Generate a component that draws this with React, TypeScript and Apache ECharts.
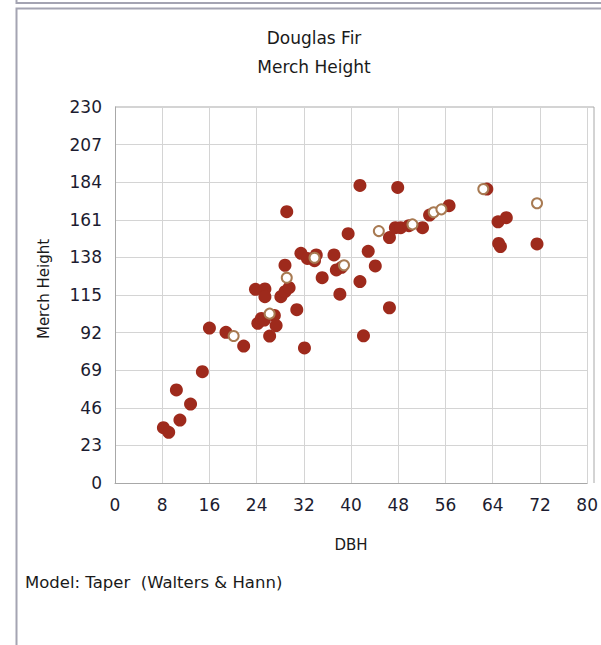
import React, { useEffect, useRef } from "react";
import * as echarts from "echarts";

const titleLines = ["Douglas Fir", "Merch Height"];
const xName = "DBH";
const yName = "Merch Height";
const footer = "Model: Taper  (Walters & Hann)";

// [DBH, Merch Height] observed (filled)
const filledPoints: [number, number][] = [
  [8.2, 33.8], [9.1, 31.0], [11.0, 38.5], [12.8, 48.3], [10.4, 56.9], [14.8, 68.1],
  [16.0, 94.8], [18.8, 92.2], [21.8, 83.8],
  [24.2, 97.7], [24.8, 100.7], [25.3, 99.7], [27.0, 102.5], [27.3, 96.3], [26.2, 89.9],
  [23.8, 118.5], [25.4, 118.7], [25.4, 114.0], [28.1, 114.0], [28.8, 117.0], [29.5, 119.5],
  [28.8, 133.2], [29.1, 166.0], [30.8, 106.0], [32.1, 82.6],
  [31.5, 140.5], [32.6, 137.4], [33.8, 136.0], [34.1, 139.5], [35.1, 125.6], [37.1, 139.5],
  [37.5, 130.3], [38.4, 131.9], [38.1, 115.5],
  [39.5, 152.5], [41.5, 123.2], [42.1, 90.0], [42.9, 141.7], [44.1, 132.8], [46.5, 150.1],
  [46.5, 107.2], [41.5, 182.0], [47.9, 180.8],
  [47.5, 156.2], [48.4, 156.2], [49.8, 157.4], [52.1, 156.2], [53.3, 163.9], [56.6, 169.6],
  [63.0, 179.8], [64.9, 159.8], [66.3, 162.3], [65.0, 146.5], [65.3, 144.6], [71.5, 146.2],
];

// [DBH, Merch Height] (hollow markers)
const hollowPoints: [number, number][] = [
  [20.1, 89.9], [26.2, 103.6], [29.1, 125.6], [33.8, 137.8], [38.8, 133.2], [44.7, 154.1],
  [50.4, 158.2], [54.0, 165.6], [55.3, 167.4], [62.4, 179.8], [71.5, 171.1],
];

const xMin = 0, xMax = 80, xStep = 8;
const yMin = 0, yMax = 230, yStep = 23;

const FONT = "DejaVu Sans";

export default function App() {
  const ref = useRef<HTMLDivElement>(null);
  useEffect(() => {
    if (!ref.current) return;
    const chart = echarts.init(ref.current, null, { renderer: "svg" });
    chart.setOption({
      animation: false,
      backgroundColor: "#ffffff",
      textStyle: { fontFamily: FONT },
      title: {
        text: titleLines.join("\n"),
        left: 309,
        top: 18,
        textAlign: "center",
        textStyle: { fontFamily: FONT, fontSize: 17, fontWeight: "normal", color: "#1a1a1a", lineHeight: 29 },
      },
      grid: { left: 115, top: 107, right: 7, bottom: 162, containLabel: false },
      xAxis: {
        type: "value",
        min: xMin,
        max: xMax,
        interval: xStep,
        name: xName,
        nameLocation: "middle",
        nameGap: 54,
        nameTextStyle: { fontFamily: FONT, fontSize: 15, color: "#1a1a1a" },
        axisLine: { show: true, lineStyle: { color: "#a8a8a8", width: 1 } },
        axisTick: { show: false },
        axisLabel: { margin: 13, fontFamily: FONT, fontSize: 17, color: "#1c1c30" },
        splitLine: { show: true, lineStyle: { color: "#d4d4d4", width: 1 } },
      },
      yAxis: {
        type: "value",
        min: yMin,
        max: yMax,
        interval: yStep,
        name: yName,
        nameLocation: "middle",
        nameGap: 64,
        nameRotate: 90,
        nameTextStyle: { fontFamily: FONT, fontSize: 15, color: "#1a1a1a", padding: [0, 0, 0, 12] },
        axisLine: { show: true, lineStyle: { color: "#a8a8a8", width: 1 } },
        axisTick: { show: false },
        axisLabel: { margin: 13, fontFamily: FONT, fontSize: 17, color: "#1c1c30" },
        splitLine: { show: true, lineStyle: { color: "#d4d4d4", width: 1 } },
      },
      graphic: [
        {
          type: "rect",
          shape: { x: 16.5, y: -10, width: 600, height: 13 },
          style: { fill: "none", stroke: "#a4a4b2", lineWidth: 2 },
          silent: true,
        },
        {
          type: "rect",
          shape: { x: 16.5, y: 8.5, width: 600, height: 700 },
          style: { fill: "none", stroke: "#a4a4b2", lineWidth: 2 },
          silent: true,
        },
        {
          type: "line",
          shape: { x1: 115, y1: 107, x2: 594, y2: 107 },
          style: { stroke: "#a8a8a8", lineWidth: 1 },
          silent: true,
        },
        {
          type: "line",
          shape: { x1: 594, y1: 107, x2: 594, y2: 483 },
          style: { stroke: "#a8a8a8", lineWidth: 1 },
          silent: true,
        },
        {
          type: "text",
          left: 25,
          top: 574,
          style: { text: footer, font: `16.5px "${FONT}"`, fill: "#1a1a1a" },
          silent: true,
        },
      ],
      series: [
        {
          type: "scatter",
          data: filledPoints,
          symbol: "circle",
          symbolSize: 13,
          itemStyle: { color: "#9e2a1c", opacity: 1 },
          z: 2,
        },
        {
          type: "scatter",
          data: hollowPoints,
          symbol: "circle",
          symbolSize: 10,
          itemStyle: { color: "#ffffff", borderColor: "#a87a52", borderWidth: 2, opacity: 1 },
          z: 3,
        },
      ],
    });
    return () => chart.dispose();
  }, []);
  return (
    <div
      ref={ref}
      style={{ position: "absolute", left: 0, top: 0, width: 601, height: 645 }}
    />
  );
}
